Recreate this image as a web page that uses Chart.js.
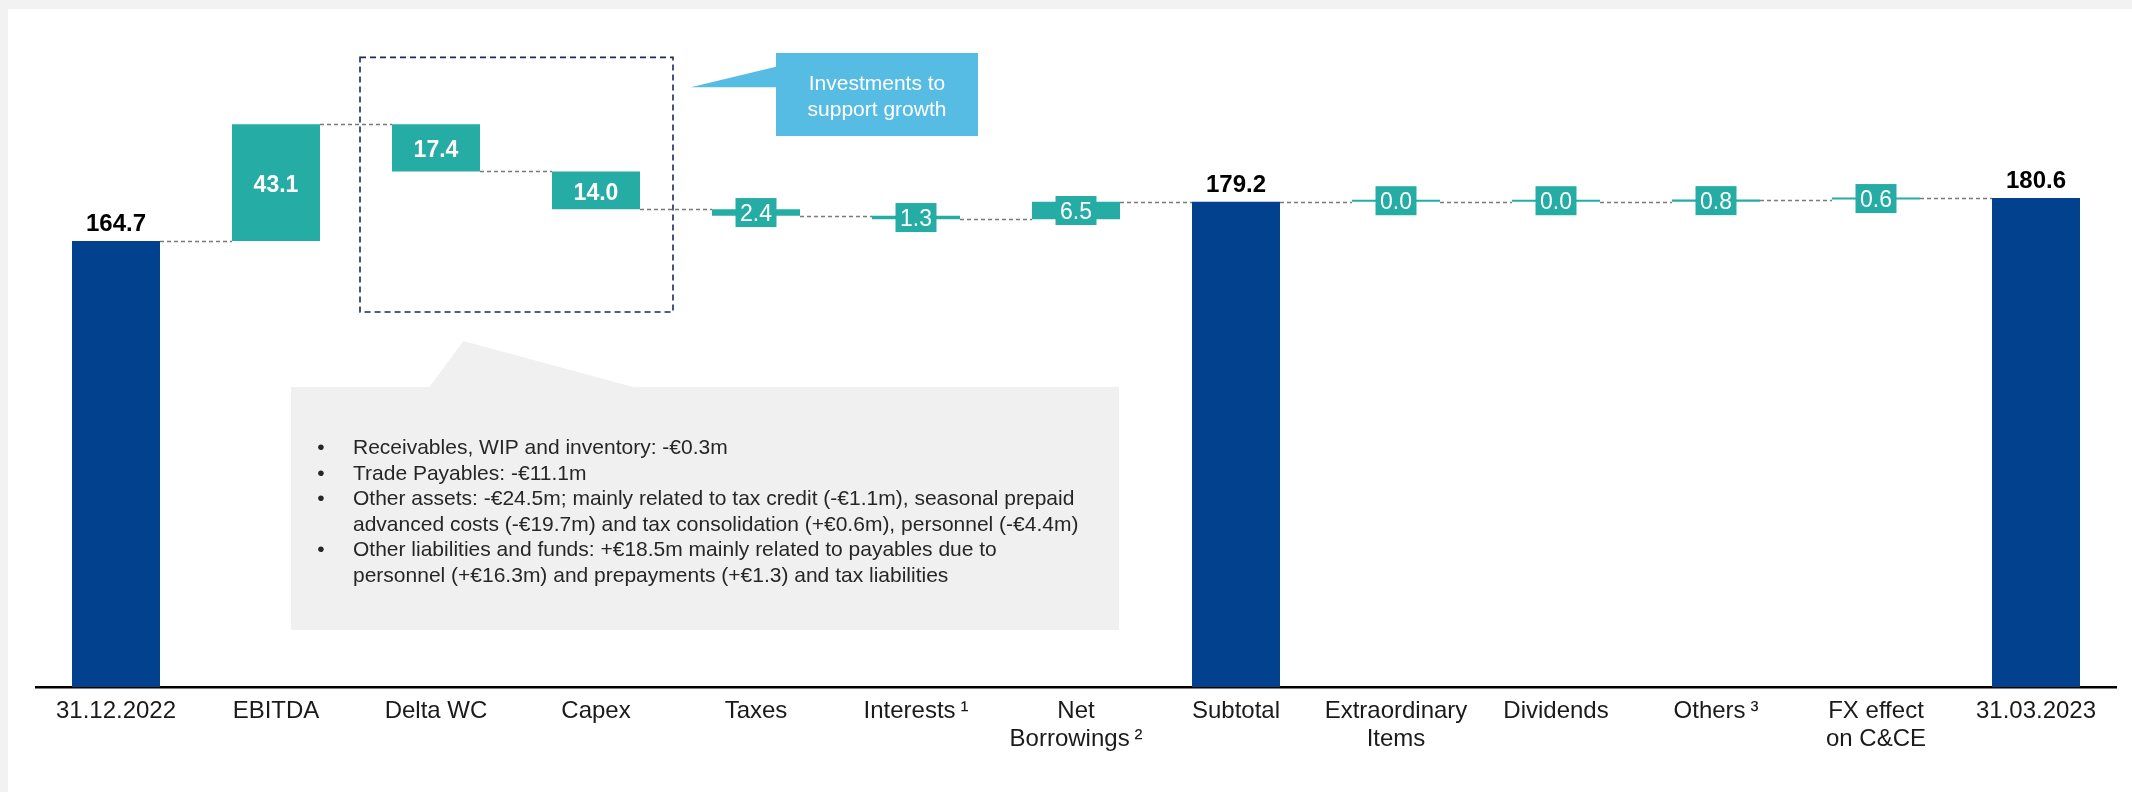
<!DOCTYPE html>
<html>
<head>
<meta charset="utf-8">
<title>Cash bridge 31.12.2022 – 31.03.2023</title>
<script src="https://cdn.jsdelivr.net/npm/chart.js@4.4.1/dist/chart.umd.min.js"></script>
<style>
  html, body { margin: 0; padding: 0; background: #f2f2f2; }
  #wrap { width: 2132px; height: 792px; position: relative; }
  canvas { display: block; }
</style>
</head>
<body>
<div id="wrap"><canvas id="bridge" width="2132" height="792"></canvas></div>
<script>
// ---- Data -------------------------------------------------------------
const categories = [
  '31.12.2022', 'EBITDA', 'Delta WC', 'Capex', 'Taxes', 'Interests\u2009¹',
  ['Net', 'Borrowings\u2009²'], 'Subtotal', ['Extraordinary', 'Items'],
  'Dividends', 'Others\u2009³', ['FX effect', 'on C&CE'], '31.03.2023'
];
// totals are absolute balances, the rest are movements
const stepValues = [164.7, 43.1, -17.4, -14.0, -2.4, -1.3, 6.5, 179.2, 0.0, 0.0, 0.8, 0.6, 180.6];
const isTotal    = [true, false, false, false, false, false, false, true, false, false, false, false, true];

const growthNote = ['Investments to', 'support growth'];
const wcNotes = [
  ['Receivables, WIP and inventory: -€0.3m'],
  ['Trade Payables: -€11.1m'],
  ['Other assets: -€24.5m; mainly related to tax credit (-€1.1m), seasonal prepaid',
   'advanced costs (-€19.7m) and tax consolidation (+€0.6m), personnel (-€4.4m)'],
  ['Other liabilities and funds: +€18.5m mainly related to payables due to',
   'personnel (+€16.3m) and prepayments (+€1.3) and tax liabilities']
];

// ---- Build floating ranges for the waterfall --------------------------
const ranges = [];
const levels = [];
let running = 0;
stepValues.forEach((v, i) => {
  if (isTotal[i]) { ranges.push([0, v]); running = v; }
  else { ranges.push([running, running + v]); running = running + v; }
  levels.push(running);
});

const FONT = "'Liberation Sans', Arial, Helvetica, sans-serif";
const BLUE = '#01418E';
const TEAL = '#25ACA4';

// ---- Plugins ------------------------------------------------------------
const panelBackground = {
  id: 'panelBackground',
  beforeDraw(chart) {
    const { ctx, width, height } = chart;
    ctx.save();
    ctx.fillStyle = '#f2f2f2';
    ctx.fillRect(0, 0, width, height);
    ctx.fillStyle = '#ffffff';
    ctx.fillRect(8, 9, width - 8, height - 9);
    ctx.restore();
  }
};

const connectors = {
  id: 'connectors',
  afterDatasetsDraw(chart) {
    const { ctx } = chart;
    const meta = chart.getDatasetMeta(0);
    const y = chart.scales.y;
    ctx.save();
    ctx.strokeStyle = '#7a7a7a';
    ctx.lineWidth = 1.4;
    ctx.setLineDash([4, 3]);
    for (let i = 0; i < meta.data.length - 1; i++) {
      const a = meta.data[i], b = meta.data[i + 1];
      const py = Math.round(y.getPixelForValue(levels[i])) + 0.5;
      ctx.beginPath();
      ctx.moveTo(a.x + a.width / 2, py);
      ctx.lineTo(b.x - b.width / 2, py);
      ctx.stroke();
    }
    ctx.restore();
  }
};

const annotations = {
  id: 'annotations',
  afterDatasetsDraw(chart) {
    const { ctx } = chart;
    const x = chart.scales.x, y = chart.scales.y;
    ctx.save();

    // dashed frame around Delta WC and Capex
    const left = (x.getPixelForValue(1) + x.getPixelForValue(2)) / 2 + 4;
    const right = (x.getPixelForValue(3) + x.getPixelForValue(4)) / 2 - 3;
    const top = y.getPixelForValue(232.5);
    const bottom = y.getPixelForValue(138.5);
    ctx.strokeStyle = '#1c2a5e';
    ctx.lineWidth = 1.6;
    ctx.setLineDash([6, 4]);
    ctx.strokeRect(left, top, right - left, bottom - top);
    ctx.setLineDash([]);

    // blue callout
    ctx.fillStyle = '#56BCE4';
    ctx.beginPath();
    ctx.moveTo(776, 66.7);
    ctx.lineTo(690.7, 87.3);
    ctx.lineTo(776, 87.3);
    ctx.closePath();
    ctx.fill();
    ctx.fillRect(776, 53, 202, 83);
    ctx.fillStyle = '#ffffff';
    ctx.font = `21px ${FONT}`;
    ctx.textAlign = 'center';
    ctx.textBaseline = 'alphabetic';
    ctx.fillText(growthNote[0], 877, 90);
    ctx.fillText(growthNote[1], 877, 116);

    // grey note box with pointer
    ctx.fillStyle = '#f0f0f0';
    ctx.beginPath();
    ctx.moveTo(429, 387.5);
    ctx.lineTo(463.4, 341);
    ctx.lineTo(635, 387.5);
    ctx.closePath();
    ctx.fill();
    ctx.fillRect(291, 387, 828, 243);

    ctx.fillStyle = '#262626';
    ctx.font = `21px ${FONT}`;
    let base = 454;
    wcNotes.forEach(lines => {
      ctx.textAlign = 'center';
      ctx.fillText('•', 321, base);
      ctx.textAlign = 'left';
      lines.forEach(line => {
        ctx.fillText(line, 353, base);
        base += 25.5;
      });
    });
    ctx.restore();
  }
};

const valueLabels = {
  id: 'valueLabels',
  afterDatasetsDraw(chart) {
    const { ctx } = chart;
    const meta = chart.getDatasetMeta(0);
    ctx.save();
    ctx.textAlign = 'center';
    ctx.textBaseline = 'alphabetic';
    meta.data.forEach((bar, i) => {
      const v = stepValues[i];
      const txt = Math.abs(v).toFixed(1);
      const topPx = Math.min(bar.y, bar.base);
      const botPx = Math.max(bar.y, bar.base);
      if (isTotal[i]) {
        ctx.font = `bold 24px ${FONT}`;
        ctx.fillStyle = '#000000';
        ctx.fillText(txt, bar.x, topPx - 10);
        return;
      }
      const mid = (topPx + botPx) / 2;
      if (botPx - topPx >= 36) {
        ctx.font = `bold 23px ${FONT}`;
        ctx.fillStyle = '#ffffff';
        ctx.fillText(txt, bar.x, mid + 9.3);
      } else {
        ctx.font = `23px ${FONT}`;
        const w = ctx.measureText(txt).width + 9;
        const h = 29;
        ctx.fillStyle = TEAL;
        ctx.fillRect(bar.x - w / 2, mid - h / 2, w, h);
        ctx.fillStyle = '#ffffff';
        ctx.fillText(txt, bar.x, mid + 8.3);
      }
    });
    ctx.restore();
  }
};

// ---- Chart ------------------------------------------------------------
new Chart(document.getElementById('bridge'), {
  type: 'bar',
  data: {
    labels: categories,
    datasets: [{
      data: ranges,
      backgroundColor: isTotal.map(t => t ? BLUE : TEAL),
      borderWidth: 0,
      barPercentage: 0.55,
      categoryPercentage: 1.0,
      minBarLength: 2
    }]
  },
  options: {
    responsive: false,
    animation: false,
    devicePixelRatio: 1,
    layout: { padding: { left: 36, right: 16, top: 10, bottom: 0 } },
    plugins: {
      legend: { display: false },
      tooltip: { enabled: false }
    },
    scales: {
      x: {
        grid: { display: false, drawTicks: false },
        border: { display: true, color: '#000000', width: 2.5 },
        ticks: {
          color: '#1a1a1a',
          font: { family: FONT, size: 24, lineHeight: 1.17 },
          padding: 10,
          maxRotation: 0,
          autoSkip: false
        },
        afterFit(scale) { scale.height = 105; }
      },
      y: {
        display: false,
        min: 0,
        max: 250
      }
    }
  },
  plugins: [panelBackground, connectors, annotations, valueLabels]
});
</script>
</body>
</html>
